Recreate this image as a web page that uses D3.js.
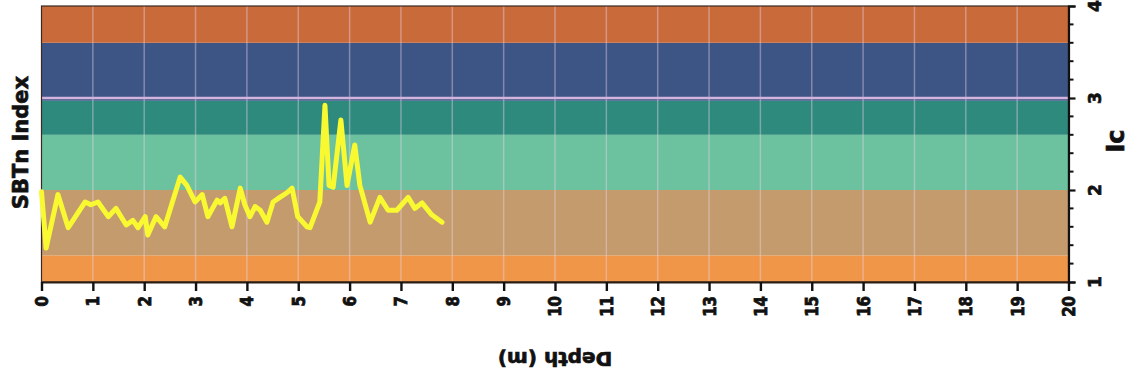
<!DOCTYPE html>
<html>
<head>
<meta charset="utf-8">
<script src="https://cdn.jsdelivr.net/npm/d3@7"></script>
<style>
  html, body { margin: 0; padding: 0; background: #ffffff; }
  svg { display: block; }
  text { font-family: "DejaVu Sans", Verdana, sans-serif; font-weight: bold; fill: #111; stroke: #111; stroke-width: 0.7px; }
</style>
</head>
<body>
<svg id="chart" width="1135" height="380"></svg>
<script>
// ---- data ----
const depth = [0.00, 0.09, 0.32, 0.52, 0.85, 0.96, 1.10, 1.30, 1.45, 1.65, 1.78, 1.88, 2.02, 2.07, 2.23, 2.40,
               2.70, 2.83, 2.99, 3.13, 3.24, 3.42, 3.48, 3.57, 3.71, 3.87, 3.96, 4.06, 4.16, 4.26, 4.39,
               4.51, 4.64, 4.78, 4.88, 4.99, 5.17, 5.23, 5.42, 5.52, 5.60, 5.68, 5.83, 5.95, 6.10, 6.20,
               6.40, 6.59, 6.75, 6.92, 7.14, 7.27, 7.41, 7.60, 7.80];
const icValues = [1.98, 1.37, 1.95, 1.59, 1.87, 1.84, 1.87, 1.71, 1.80, 1.62, 1.67, 1.59, 1.71, 1.51, 1.71, 1.60,
                  2.14, 2.05, 1.87, 1.95, 1.71, 1.89, 1.86, 1.91, 1.60, 2.02, 1.84, 1.71, 1.82, 1.78, 1.65,
                  1.87, 1.92, 1.97, 2.02, 1.71, 1.60, 1.59, 1.87, 2.92, 2.05, 2.03, 2.76, 2.05, 2.49, 2.05,
                  1.65, 1.92, 1.78, 1.78, 1.92, 1.80, 1.86, 1.73, 1.65];

const bandLower = [1.00, 1.29, 2.00, 2.60, 2.97, 3.60];
const bandUpper = [1.29, 2.00, 2.60, 2.97, 3.60, 4.00];
const bandColors = ["#ef9649", "#c49b6c", "#6cc19f", "#2e8a7c", "#3d5584", "#c96a3b"];

const xTickValues = [0,1,2,3,4,5,6,7,8,9,10,11,12,13,14,15,16,17,18,19,20];
const yTickValues = [1, 2, 3, 4];
const yMinorTickValues = [1.2,1.4,1.6,1.8,2.2,2.4,2.6,2.8,3.2,3.4,3.6,3.8];
const yGridValues = [3];

const xLabel = "Depth (m)";
const yLeftLabel = "SBTn Index";
const yRightLabel = "Ic";

// ---- layout ----
const svg = d3.select("#chart");
const pLeft = 41.5, pRight = 1068.5, pTop = 6, pBottom = 282;

const x = d3.scaleLinear().domain([0, 20]).range([pLeft, pRight]);
const y = d3.scaleLinear().domain([1, 4]).range([pBottom, pTop]);

// bands
svg.append("g").selectAll("rect")
  .data(bandLower.map((lo, i) => ({lo, hi: bandUpper[i], c: bandColors[i]})))
  .join("rect")
  .attr("x", pLeft)
  .attr("width", pRight - pLeft)
  .attr("y", d => y(d.hi))
  .attr("height", d => y(d.lo) - y(d.hi))
  .attr("fill", d => d.c);

// vertical grid
svg.append("g").selectAll("line")
  .data(xTickValues.slice(1, -1))
  .join("line")
  .attr("x1", d => x(d)).attr("x2", d => x(d))
  .attr("y1", pTop).attr("y2", pBottom)
  .attr("stroke", "#eed6ee").attr("stroke-opacity", 0.4).attr("stroke-width", 1.5);

// horizontal grid
svg.append("g").selectAll("line")
  .data(yGridValues)
  .join("line")
  .attr("x1", pLeft).attr("x2", pRight)
  .attr("y1", d => y(d)).attr("y2", d => y(d))
  .attr("stroke", "#d2b4dc").attr("stroke-width", 2.5);

// frame
svg.append("rect")
  .attr("x", pLeft).attr("y", pTop)
  .attr("width", pRight - pLeft).attr("height", pBottom - pTop)
  .attr("fill", "none").attr("stroke", "#3a2a22").attr("stroke-width", 1.2);

// line
const line = d3.line().x((d, i) => x(depth[i])).y(d => y(d));
svg.append("path")
  .attr("d", line(icValues))
  .attr("fill", "none")
  .attr("stroke", "#f9f932")
  .attr("stroke-width", 5)
  .attr("stroke-linejoin", "round")
  .attr("stroke-linecap", "round");

// bottom axis
const xAxis = svg.append("g").attr("transform", `translate(0,${pBottom})`)
  .call(d3.axisBottom(x).tickValues(xTickValues).tickSize(9).tickFormat(""));
xAxis.select(".domain").attr("stroke", "#2a1d16").attr("stroke-width", 2);
xAxis.selectAll(".tick line").attr("stroke", "#111").attr("stroke-width", 2.4);

svg.append("g").selectAll("text")
  .data(xTickValues)
  .join("text")
  .attr("transform", d => `translate(${x(d)},296) rotate(-90) scale(1,1.2)`)
  .attr("text-anchor", "end")
  .attr("dy", "0.36em")
  .attr("font-size", 15)
  .text(d => d);

// right axis
const yAxis = svg.append("g").attr("transform", `translate(${pRight},0)`)
  .call(d3.axisRight(y).tickValues(yTickValues).tickSize(7).tickFormat(""));
yAxis.select(".domain").attr("stroke", "#111").attr("stroke-width", 2.2);
yAxis.selectAll(".tick line").attr("stroke", "#111").attr("stroke-width", 2.2);

svg.append("g").selectAll("line")
  .data(yMinorTickValues)
  .join("line")
  .attr("x1", pRight).attr("x2", pRight + 5)
  .attr("y1", d => y(d)).attr("y2", d => y(d))
  .attr("stroke", "#111").attr("stroke-width", 2);

svg.append("g").selectAll("text")
  .data(yTickValues)
  .join("text")
  .attr("transform", d => `translate(1101,${y(d)}) rotate(-90)`)
  .attr("text-anchor", "middle")
  .attr("font-size", 17)
  .text(d => d);

// axis titles
svg.append("text")
  .attr("transform", `translate(28,142.5) rotate(-90)`)
  .attr("text-anchor", "middle")
  .attr("font-size", 21)
  .text(yLeftLabel);

svg.append("text")
  .attr("transform", `translate(1124,141) rotate(-90)`)
  .attr("text-anchor", "middle")
  .attr("font-size", 24)
  .text(yRightLabel);

svg.append("text")
  .attr("transform", `translate(555,359) rotate(180)`)
  .attr("text-anchor", "middle")
  .attr("dy", "0.35em")
  .attr("font-size", 20)
  .text(xLabel);
</script>
</body>
</html>
